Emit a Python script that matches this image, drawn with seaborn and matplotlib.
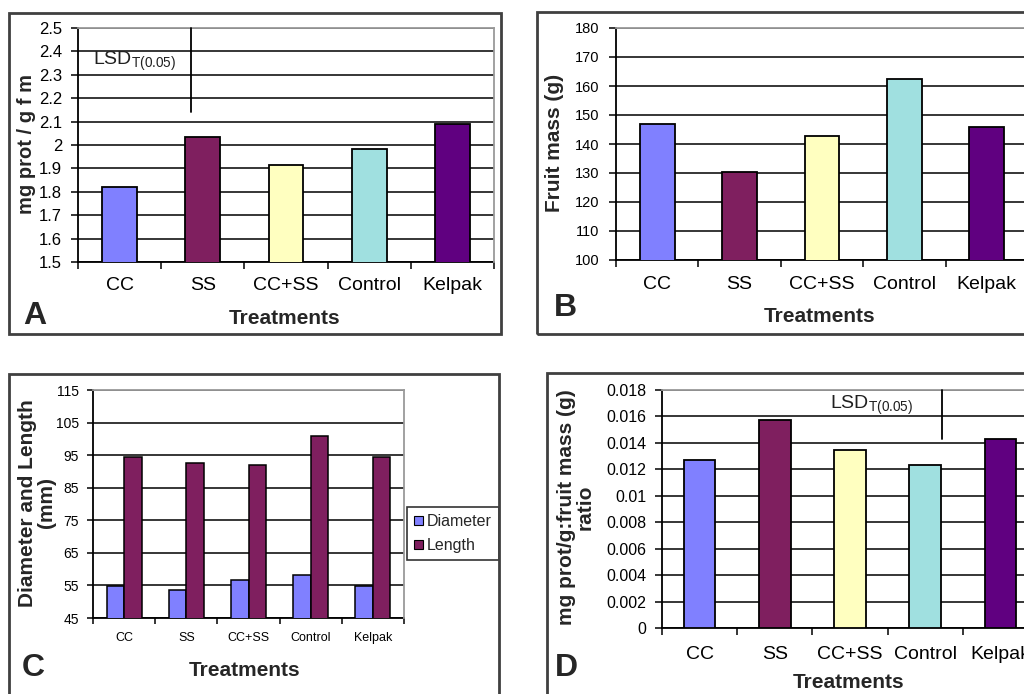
import matplotlib
matplotlib.use("Agg")
import matplotlib.pyplot as plt
from matplotlib.patches import Rectangle, Patch
from matplotlib.ticker import FixedLocator, FuncFormatter
import numpy as np
import pandas as pd
import seaborn as sns

# ---- data -------------------------------------------------------------
treatments = ["CC", "SS", "CC+SS", "Control", "Kelpak"]
bar_colors = ["#8080FF", "#7F1F5F", "#FFFFC0", "#A0E0E0", "#600080"]

protein = [1.822, 2.035, 1.916, 1.983, 2.091]          # mg prot / g f m
fruit_mass = [146.9, 130.5, 142.9, 162.5, 145.9]        # g
diameter = [54.9, 53.7, 56.7, 58.2, 54.9]               # mm
length = [94.4, 92.7, 92.1, 100.8, 94.5]                # mm
prot_ratio = [0.01267, 0.01574, 0.01345, 0.01234, 0.01433]

lsd_protein = 0.36
lsd_ratio = 0.0037

measure_names = ["Diameter", "Length"]
measure_colors = ["#8080FF", "#7F1F5F"]

# ---- style ------------------------------------------------------------
sns.set_theme(style="white")
plt.rcParams["font.family"] = ["Liberation Sans", "DejaVu Sans"]
plt.rcParams["mathtext.fontset"] = "custom"
plt.rcParams["mathtext.rm"] = "Liberation Sans"

W, H = 1024, 694
fig = plt.figure(figsize=(W / 100, H / 100), dpi=100)
fig.patch.set_facecolor("white")


def px_axes(left, top, right, bottom):
    return fig.add_axes([left / W, 1 - bottom / H, (right - left) / W, (bottom - top) / H])


def fig_text(x, y, s, **kw):
    fig.text(x / W, 1 - y / H, s, **kw)


def frame(left, top, right, bottom):
    fig.add_artist(Rectangle((left / W, 1 - bottom / H), (right - left) / W, (bottom - top) / H,
                             transform=fig.transFigure, fill=False,
                             edgecolor="#404040", linewidth=2.0))


def excel_axes(ax, ymin, ymax, ystep, ytick_size, xtick_size, xpad, ypad, tlen=5):
    ax.set_facecolor("white")
    ax.set_xlim(-0.5, len(treatments) - 0.5)
    ax.set_ylim(ymin, ymax)
    yt = np.round(np.arange(ymin, ymax + ystep / 2, ystep), 6)
    ax.yaxis.set_major_locator(FixedLocator(yt))
    ax.yaxis.set_major_formatter(FuncFormatter(lambda v, p: f"{v:g}"))
    ax.yaxis.grid(True, color="black", linewidth=1.1, zorder=0)
    ax.set_axisbelow(True)
    # tick marks sit between categories, labels sit under the bars
    ax.xaxis.set_major_locator(FixedLocator(np.arange(-0.5, len(treatments), 1.0)))
    ax.xaxis.set_major_formatter(FuncFormatter(lambda v, p: ""))
    ax.xaxis.set_minor_locator(FixedLocator(np.arange(len(treatments))))
    ax.set_xticks(np.arange(len(treatments)), treatments, minor=True)
    ax.tick_params(axis="x", which="major", direction="out", length=tlen, width=1.1,
                   color="black", bottom=True)
    ax.tick_params(axis="x", which="minor", length=0, pad=xpad, labelsize=xtick_size,
                   labelcolor="black")
    ax.tick_params(axis="y", direction="out", length=tlen, width=1.1, color="black",
                   left=True, pad=ypad, labelsize=ytick_size, labelcolor="black")
    for side in ("left", "bottom"):
        ax.spines[side].set_color("black")
        ax.spines[side].set_linewidth(1.3)
    for side in ("top", "right"):
        ax.spines[side].set_color("#9a9a9a")
        ax.spines[side].set_linewidth(1.3)
        ax.spines[side].set_zorder(5)
    ax.set_xlabel("")
    ax.set_ylabel("")


def single_bars(ax, values, name):
    df = pd.DataFrame({"Treatment": treatments, name: values})
    sns.barplot(data=df, x="Treatment", y=name, hue="Treatment", order=treatments,
                hue_order=treatments, palette=bar_colors, legend=False, width=0.42,
                edgecolor="black", linewidth=1.3, saturation=1, ax=ax, zorder=3)


# ---- panel A: protein -------------------------------------------------
frame(9, 13, 501, 334)
axA = px_axes(78, 28, 494, 262)
single_bars(axA, protein, "protein")
excel_axes(axA, 1.5, 2.5, 0.1, 12, 14, 11, 6.5)
axA.plot([0.86, 0.86], [2.5, 2.5 - lsd_protein], color="black", lw=1.3, zorder=6,
         clip_on=False)
axA.text(-0.32, 2.36, r"LSD$_{\mathregular{T(0.05)}}$", fontsize=14, ha="left",
         va="center", color="#202020", zorder=6)
fig_text(27, 144, "mg prot / g f m", rotation=90, fontsize=14.5, fontweight="bold",
         ha="center", va="center")
fig_text(285, 318, "Treatments", fontsize=15, fontweight="bold", ha="center", va="center")
fig_text(23, 316, "A", fontsize=23, fontweight="bold", ha="left", va="center")

# ---- panel B: fruit mass ---------------------------------------------
frame(537, 12, 1040, 334)
axB = px_axes(616, 28, 1028, 260)
single_bars(axB, fruit_mass, "mass")
excel_axes(axB, 100, 180, 10, 10.5, 14, 11.5, 7)
fig_text(554, 143, "Fruit mass (g)", rotation=90, fontsize=15, fontweight="bold",
         ha="center", va="center")
fig_text(820, 316, "Treatments", fontsize=15, fontweight="bold", ha="center", va="center")
fig_text(554, 308, "B", fontsize=23, fontweight="bold", ha="left", va="center")

# ---- panel C: diameter and length -------------------------------------
frame(9, 374, 499, 710)
axC = px_axes(93, 390, 404, 618)
dfC = pd.DataFrame({
    "Treatment": treatments * 2,
    "Measure": [measure_names[0]] * len(treatments) + [measure_names[1]] * len(treatments),
    "mm": diameter + length,
})
sns.barplot(data=dfC, x="Treatment", y="mm", hue="Measure", order=treatments,
            hue_order=measure_names, palette=measure_colors, width=0.56, gap=0,
            edgecolor="black", linewidth=1.1, saturation=1, ax=axC, zorder=3)
axC.get_legend().remove()
excel_axes(axC, 45, 115, 10, 10, 9, 10, 6, tlen=4)
handles = [Patch(facecolor=c, edgecolor="black", linewidth=0.8) for c in measure_colors]
leg = axC.legend(handles, measure_names, loc="upper left",
                 bbox_to_anchor=(407 / W, 1 - 507 / H), bbox_transform=fig.transFigure,
                 frameon=True, fancybox=False, shadow=False, edgecolor="black",
                 borderaxespad=0, borderpad=0.45, handlelength=0.55, handleheight=0.55,
                 handletextpad=0.25, labelspacing=0.55, fontsize=11.5)
leg.get_frame().set_linewidth(1.2)
fig_text(37, 503, "Diameter and Length\n(mm)", rotation=90, fontsize=15,
         fontweight="bold", ha="center", va="center", linespacing=1.0)
fig_text(245, 671, "Treatments", fontsize=15, fontweight="bold", ha="center", va="center")
fig_text(22, 668, "C", fontsize=23, fontweight="bold", ha="left", va="center")

# ---- panel D: protein / fruit mass ratio --------------------------------
frame(547, 373, 1040, 710)
axD = px_axes(662, 390, 1038, 628)
single_bars(axD, prot_ratio, "ratio")
excel_axes(axD, 0, 0.018, 0.002, 11.5, 14, 13, 6)
axD.plot([3.22, 3.22], [0.018, 0.018 - lsd_ratio], color="black", lw=1.3, zorder=6,
         clip_on=False)
axD.text(1.74, 0.01687, r"LSD$_{\mathregular{T(0.05)}}$", fontsize=14, ha="left",
         va="center", color="#202020", zorder=6)
fig_text(576, 507, "mg prot/g:fruit mass (g)\nratio", rotation=90, fontsize=15,
         fontweight="bold", ha="center", va="center", linespacing=1.0)
fig_text(849, 682, "Treatments", fontsize=15, fontweight="bold", ha="center", va="center")
fig_text(555, 668, "D", fontsize=23, fontweight="bold", ha="left", va="center")

fig.savefig("out.png", dpi=100, facecolor="white")
